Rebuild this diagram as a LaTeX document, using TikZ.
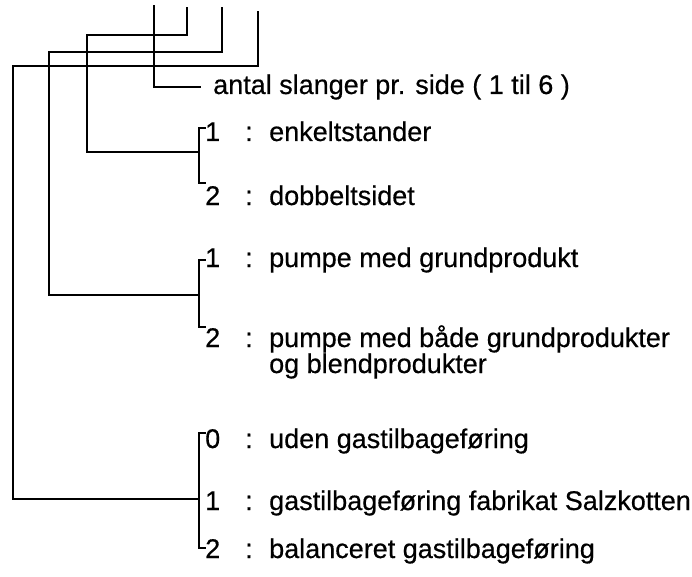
\documentclass[tikz,border=0pt]{standalone}
\usepackage{fontspec}
\setmainfont{Liberation Sans}
\newfontfamily\scanfont{Liberation Sans}[FakeBold=0.5]

\tikzset{
  every picture/.append style={x=1pt, y=-1pt},
  num/.style={anchor=base west, inner sep=0pt, font=\scanfont\fontsize{27}{30}\selectfont},
  txt/.style={num},
  wire/.style={line width=2.3pt, line cap=rect},
}

\begin{document}
\begin{tikzpicture}
  \useasboundingbox (0,0) rectangle (692,577);
  \coordinate (topA) at (154,6);
  \coordinate (topB) at (187,8);
  \coordinate (topC) at (222,8);
  \coordinate (topD) at (258,12);
  \node[txt] (antal) at (213,94) {antal slanger pr. side ( 1 til 6 )};
  \node[num] (s1) at (205,141) {1};
  \node[num] (s1c) at (245,141) {:};
  \node[txt] (s1t) at (269,141) {enkeltstander};
  \node[num] (s2) at (205,205) {2};
  \node[num] (s2c) at (245,205) {:};
  \node[txt] (s2t) at (269,205) {dobbeltsidet};
  \node[num] (p1) at (205,267) {1};
  \node[num] (p1c) at (245,267) {:};
  \node[txt] (p1t) at (269,267) {pumpe med grundprodukt};
  \node[num] (p2) at (205,347) {2};
  \node[num] (p2c) at (245,347) {:};
  \node[txt] (p2t) at (269,347) {pumpe med både grundprodukter};
  \node[txt] (p2u) at (269,373) {og blendprodukter};
  \node[num] (g0) at (205,448) {0};
  \node[num] (g0c) at (245,448) {:};
  \node[txt] (g0t) at (269,448) {uden gastilbageføring};
  \node[num] (g1) at (205,510) {1};
  \node[num] (g1c) at (245,510) {:};
  \node[txt] (g1t) at (269,510) {gastilbageføring fabrikat Salzkotten};
  \node[num] (g2) at (205,558) {2};
  \node[num] (g2c) at (245,558) {:};
  \node[txt] (g2t) at (269,558) {balanceret gastilbageføring};
  \coordinate (sT) at (205,128);
  \coordinate (sM) at (199,152);
  \coordinate (sB) at (205,183);
  \coordinate (pT) at (205,260);
  \coordinate (pM) at (199,295);
  \coordinate (pB) at (205,327);
  \coordinate (gT) at (205,433);
  \coordinate (gM) at (199,499);
  \coordinate (gB) at (205,548);
  \draw[wire] (topA) |- ([xshift=-13pt]antal.west);
  \draw[wire] (topB) |- (87,35) |- (sM);
  \draw[wire] (topC) |- (49,52) |- (pM);
  \draw[wire] (topD) |- (13,66) |- (gM);
  \draw[wire] (sT) -| (sM) |- (sB);
  \draw[wire] (pT) -| (pM) |- (pB);
  \draw[wire] (gT) -| (gM) |- (gB);
\end{tikzpicture}
\end{document}
